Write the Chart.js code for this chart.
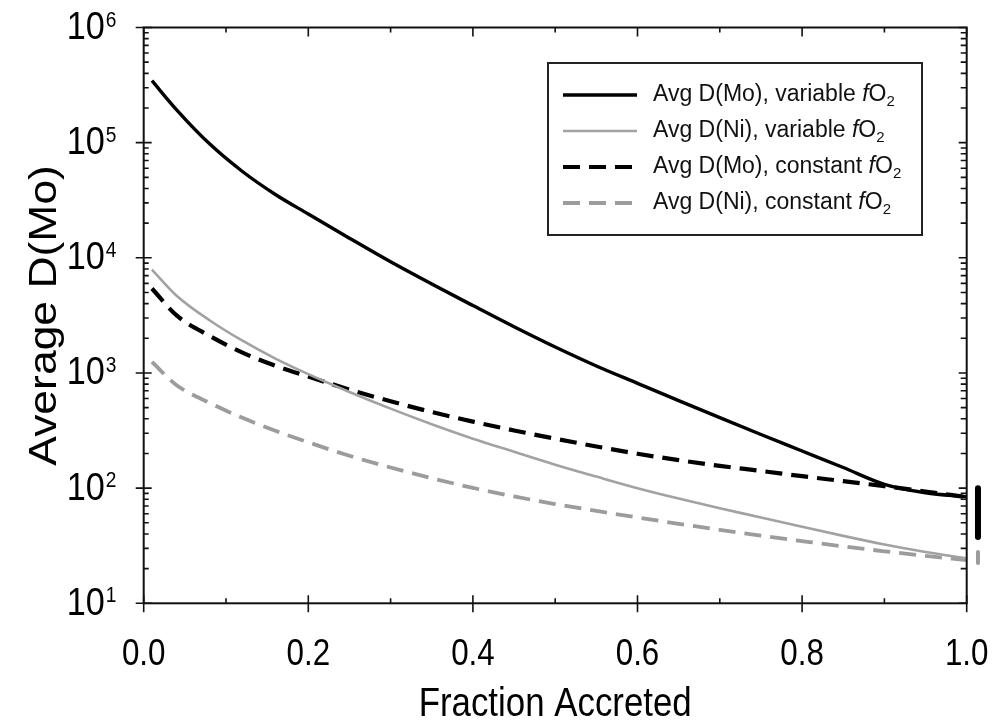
<!DOCTYPE html>
<html>
<head>
<meta charset="utf-8">
<script src="https://cdn.jsdelivr.net/npm/chart.js@4.4.1/dist/chart.umd.min.js"></script>
<style>
  html, body { margin: 0; padding: 0; background: #fff; }
  #wrap { width: 992px; height: 723px; }
</style>
</head>
<body>
<div id="wrap"><canvas id="chart" width="992" height="723"></canvas></div>
<script>
/* ── Data ── */
const fraction = [0.01, 0.04, 0.08, 0.12, 0.16, 0.2, 0.25, 0.3, 0.35, 0.4, 0.45,
                  0.5, 0.55, 0.6, 0.65, 0.7, 0.75, 0.8, 0.85, 0.9, 0.95, 1.0];

const moVariable = [345000, 192800, 97700, 56200, 35500, 24000, 14800, 9230, 5920, 3850, 2520,
                    1680, 1150, 813, 575, 409, 292, 210, 151, 108, 91.2, 84.1];
const niVariable = [7910, 4690, 2870, 1905, 1334, 977, 684, 490, 359, 269, 207,
                    160, 126, 100, 81.3, 67, 55.6, 46.2, 38.5, 32.4, 27.9, 24.5];
const moConstant = [5410, 3160, 2100, 1500, 1156, 931, 718, 568, 458, 378, 317,
                    269, 230, 199, 175, 156, 141, 127, 115, 104, 93.5, 83.6];
const niConstant = [1247, 783, 550, 408, 315, 250, 191, 151, 122, 100.5, 84.7,
                    72.8, 63.4, 55.6, 49, 43.4, 38.7, 34.7, 31.2, 28.3, 25.8, 23.7];

// range bars just right of the plot
const rangeX  = 1.0137;
const moRange = [100, 37.7];
const niRange = [27.9, 22.4];

const xTickValues = [0, 0.2, 0.4, 0.6, 0.8, 1.0];
const xTickLabels = ["0.0", "0.2", "0.4", "0.6", "0.8", "1.0"];
const xMinorTicks = [0.1, 0.3, 0.5, 0.7, 0.9];
const yExponents  = [1, 2, 3, 4, 5, 6];

const legendLabels = [
  "Avg D(Mo), variable ",
  "Avg D(Ni), variable ",
  "Avg D(Mo), constant ",
  "Avg D(Ni), constant ",
];

const FONT = '"Liberation Sans", Arial, Helvetica, sans-serif';
const BLACK = "#000000";
const GRAY  = "#9c9c9c";

function toPoints(xs, ys) {
  return xs.map((x, i) => ({ x, y: ys[i] }));
}

/* ── Helper: text squeezed horizontally like the original ── */
function drawText(ctx, str, x, y, size, align, sx) {
  ctx.save();
  ctx.translate(x, y);
  ctx.scale(sx, 1);
  ctx.font = size + "px " + FONT;
  ctx.textAlign = align;
  ctx.textBaseline = "middle";
  ctx.fillStyle = "#000";
  ctx.fillText(str, 0, 0);
  ctx.restore();
}

/* ── Axes frame, ticks and labels ── */
const axesPlugin = {
  id: "axesFrame",
  afterDatasetsDraw(chart) {
    const { ctx, chartArea: a, scales: { x, y } } = chart;
    ctx.save();
    ctx.strokeStyle = "#111";
    ctx.lineWidth = 2;
    ctx.strokeRect(a.left, a.top, a.right - a.left, a.bottom - a.top);

    ctx.lineWidth = 1.6;
    ctx.beginPath();
    // x major / minor ticks (bottom and top)
    xTickValues.forEach(v => {
      const px = x.getPixelForValue(v);
      ctx.moveTo(px, a.bottom - 8); ctx.lineTo(px, a.bottom + 9);
      ctx.moveTo(px, a.top);        ctx.lineTo(px, a.top + 9);
    });
    xMinorTicks.forEach(v => {
      const px = x.getPixelForValue(v);
      ctx.moveTo(px, a.bottom - 5); ctx.lineTo(px, a.bottom);
      ctx.moveTo(px, a.top);        ctx.lineTo(px, a.top + 5);
    });
    // y major / minor ticks (left and right)
    yExponents.forEach(e => {
      const py = y.getPixelForValue(Math.pow(10, e));
      ctx.moveTo(a.left - 8, py);  ctx.lineTo(a.left + 8, py);
      ctx.moveTo(a.right - 8, py); ctx.lineTo(a.right, py);
      if (e < 6) {
        for (let k = 2; k <= 9; k++) {
          const pm = y.getPixelForValue(k * Math.pow(10, e));
          ctx.moveTo(a.left, pm);      ctx.lineTo(a.left + 5, pm);
          ctx.moveTo(a.right - 6, pm); ctx.lineTo(a.right, pm);
        }
      }
    });
    ctx.stroke();

    // x tick labels
    xTickValues.forEach((v, i) => {
      drawText(ctx, xTickLabels[i], x.getPixelForValue(v), a.bottom + 52, 36, "center", 0.87);
    });
    // y tick labels 10^n
    yExponents.forEach(e => {
      const py = y.getPixelForValue(Math.pow(10, e));
      drawText(ctx, "10", a.left - 39, py + 1, 38, "right", 0.9);
      drawText(ctx, String(e), a.left - 38, py - 7, 22, "left", 0.87);
    });

    // axis titles
    drawText(ctx, "Fraction Accreted", (a.left + a.right) / 2, 705, 41, "center", 0.85);
    ctx.save();
    ctx.translate(45, (a.top + a.bottom) / 2);
    ctx.rotate(-Math.PI / 2);
    ctx.scale(1.14, 1);
    ctx.font = "39px " + FONT;
    ctx.textAlign = "center";
    ctx.textBaseline = "middle";
    ctx.fillStyle = "#000";
    ctx.fillText("Average D(Mo)", 0, 0);
    ctx.restore();

    ctx.restore();
  },
};

/* ── Legend box with italic f and subscript 2 ── */
const legendPlugin = {
  id: "boxLegend",
  afterDraw(chart) {
    const ctx = chart.ctx;
    const box = { left: 548, top: 63, right: 922, bottom: 235 };
    ctx.save();
    ctx.fillStyle = "#fff";
    ctx.fillRect(box.left, box.top, box.right - box.left, box.bottom - box.top);
    ctx.strokeStyle = "#222";
    ctx.lineWidth = 2;
    ctx.strokeRect(box.left, box.top, box.right - box.left, box.bottom - box.top);

    chart.data.datasets.slice(0, 4).forEach((ds, i) => {
      const ry = 95 + i * 36;
      ctx.beginPath();
      ctx.strokeStyle = ds.borderColor;
      ctx.lineWidth = ds.borderWidth;
      ctx.setLineDash(ds.borderDash || []);
      ctx.moveTo(563, ry);
      ctx.lineTo(637, ry);
      ctx.stroke();
      ctx.setLineDash([]);

      ctx.fillStyle = "#111";
      ctx.textBaseline = "middle";
      ctx.textAlign = "left";
      ctx.font = "23px " + FONT;
      let tx = 653;
      ctx.fillText(legendLabels[i], tx, ry);
      tx += ctx.measureText(legendLabels[i]).width;
      ctx.font = "italic 23px " + FONT;
      ctx.fillText("f", tx, ry);
      tx += ctx.measureText("f").width;
      ctx.font = "23px " + FONT;
      ctx.fillText("O", tx, ry);
      tx += ctx.measureText("O").width;
      ctx.font = "15px " + FONT;
      ctx.fillText("2", tx, ry + 7);
    });
    ctx.restore();
  },
};

/* ── Chart ── */
const curveBase = { pointRadius: 0, fill: false, cubicInterpolationMode: "monotone" };

new Chart(document.getElementById("chart"), {
  type: "line",
  data: {
    datasets: [
      { ...curveBase, label: "Avg D(Mo), variable fO2", data: toPoints(fraction, moVariable),
        borderColor: BLACK, borderWidth: 3.4 },
      { ...curveBase, label: "Avg D(Ni), variable fO2", data: toPoints(fraction, niVariable),
        borderColor: "#a2a2a2", borderWidth: 2.6 },
      { ...curveBase, label: "Avg D(Mo), constant fO2", data: toPoints(fraction, moConstant),
        borderColor: BLACK, borderWidth: 4.2, borderDash: [17, 9] },
      { ...curveBase, label: "Avg D(Ni), constant fO2", data: toPoints(fraction, niConstant),
        borderColor: GRAY, borderWidth: 3.8, borderDash: [17, 9] },
      { label: "Mo range", data: [{ x: rangeX, y: moRange[0] }, { x: rangeX, y: moRange[1] }],
        borderColor: BLACK, borderWidth: 6, borderCapStyle: "round", pointRadius: 0,
        tension: 0, clip: false },
      { label: "Ni range", data: [{ x: rangeX, y: niRange[0] }, { x: rangeX, y: niRange[1] }],
        borderColor: GRAY, borderWidth: 4, borderCapStyle: "round", pointRadius: 0,
        tension: 0, clip: false },
    ],
  },
  options: {
    responsive: false,
    animation: false,
    devicePixelRatio: 1,
    layout: { padding: { left: 143.7, right: 25.3, top: 27.5, bottom: 119.7 } },
    plugins: { legend: { display: false }, tooltip: { enabled: false } },
    scales: {
      x: { type: "linear", min: 0, max: 1, display: false },
      y: { type: "logarithmic", min: 10, max: 1000000, display: false },
    },
  },
  plugins: [axesPlugin, legendPlugin],
});
</script>
</body>
</html>
